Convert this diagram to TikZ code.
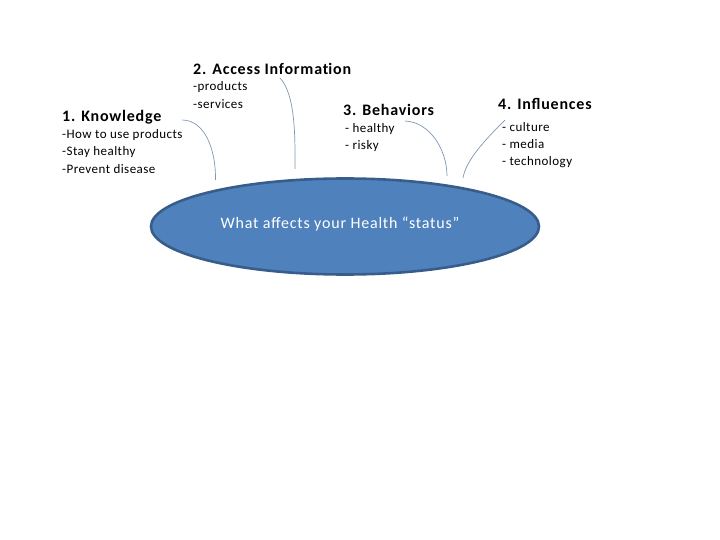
\documentclass[tikz,border=0pt]{standalone}
\usepackage{fontspec}
\setmainfont{Carlito}
\usetikzlibrary{shapes.geometric}
\definecolor{fillblue}{HTML}{4F81BD}
\definecolor{edgeblue}{HTML}{385D8A}
\definecolor{linkc}{HTML}{8096B3}
\begin{document}
\begin{tikzpicture}[x=1pt,y=-1pt,
  title/.style={anchor=west,inner sep=0pt,font=\fontsize{16}{19}\selectfont\bfseries\addfontfeatures{LetterSpace=5}},
  item/.style={anchor=west,inner sep=0pt,font=\fontsize{13}{15}\selectfont\addfontfeatures{LetterSpace=3.5},align=left},
  link/.style={draw=linkc,line width=0.7pt}]
\useasboundingbox (0,0) rectangle (720,540);
\node[ellipse, draw=edgeblue, line width=2.6pt, fill=fillblue, minimum width=388pt, minimum height=96pt, inner sep=0pt] (hub) at (345,226.5) {};
\node[text=white, font=\fontsize{16}{19}\selectfont\addfontfeatures{LetterSpace=5}] (hubt) at (340,224) {What affects your Health “status”};

\node[title] (t1) at (62,117) {1. Knowledge};
\node[item] (i1a) at (62,135) {-How to use products};
\node[item] (i1b) at (62,152) {-Stay healthy};
\node[item] (i1c) at (62,169) {-Prevent disease};

\node[title] (t2) at (193,69) {2. Access Informat\kern0pt ion};
\node[item] (i2a) at (193,87) {-products};
\node[item] (i2b) at (193,104) {-services};

\node[title] (t3) at (343,110) {3. Behaviors};
\node[item] (i3a) at (345,129) {- healthy};
\node[item] (i3b) at (345,146) {- risky};

\node[title] (t4) at (498,104) {4. Influences};
\node[item] (i4a) at (502,127) {- culture};
\node[item] (i4b) at (502,144) {- media};
\node[item] (i4c) at (502,162) {- technology};

\coordinate (e1) at (215.5,180);
\coordinate (e2) at (295,169);
\coordinate (e3) at (447,176);
\coordinate (e4) at (463,178);
\coordinate (s1) at (182,120);
\coordinate (s2) at (280,78);
\coordinate (s3) at (405,121);
\coordinate (s4) at (505,120);
\draw[link] (s1) .. controls (205,120) and (216,150) .. (e1);
\draw[link] (s2) .. controls (296,95) and (295,140) .. (e2);
\draw[link] (s3) .. controls (430,122) and (447,150) .. (e3);
\draw[link] (s4) .. controls (485,140) and (466,160) .. (e4);
\end{tikzpicture}
\end{document}
